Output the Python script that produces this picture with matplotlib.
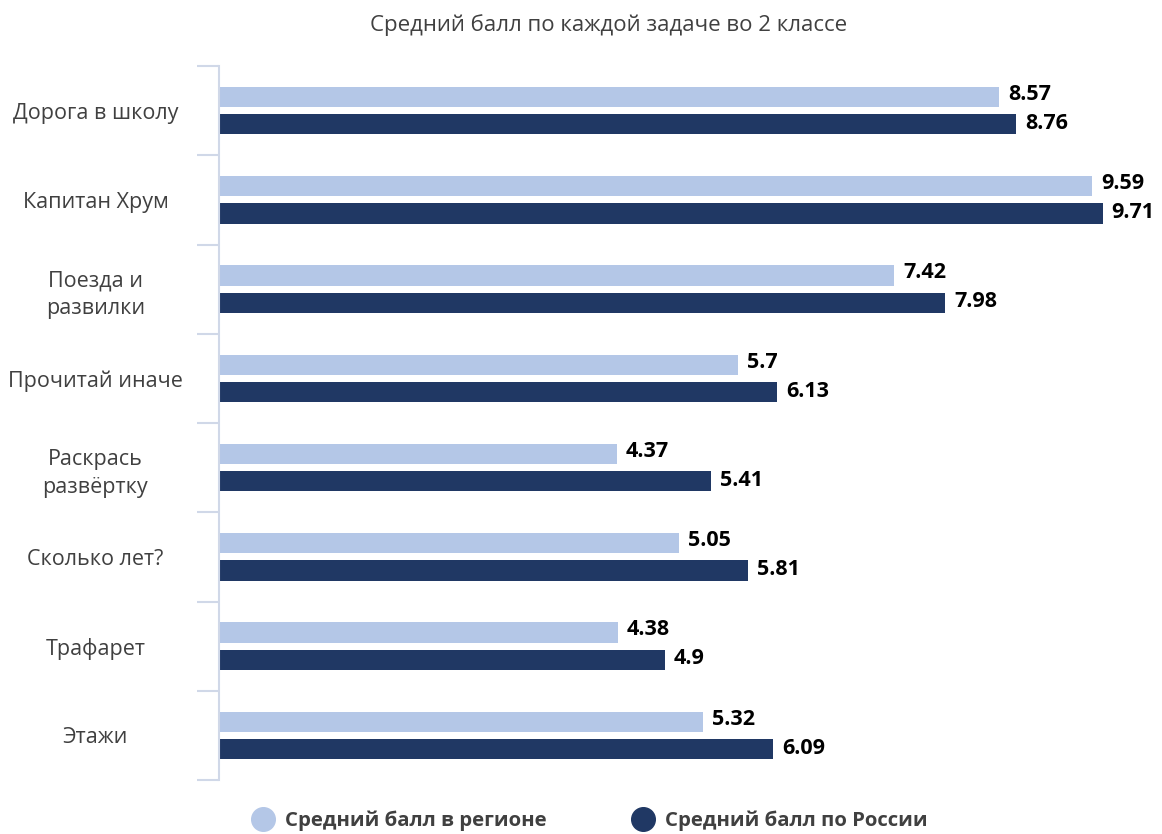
import matplotlib
matplotlib.use("Agg")
import matplotlib.pyplot as plt
import numpy as np
from matplotlib.lines import Line2D

categories = ["Дорога в школу", "Капитан Хрум", "Поезда и\nразвилки", "Прочитай иначе",
              "Раскрась\nразвёртку", "Сколько лет?", "Трафарет", "Этажи"]
region = [8.57, 9.59, 7.42, 5.7, 4.37, 5.05, 4.38, 5.32]
russia = [8.76, 9.71, 7.98, 6.13, 5.41, 5.81, 4.9, 6.09]
region_labels = ["8.57", "9.59", "7.42", "5.7", "4.37", "5.05", "4.38", "5.32"]
russia_labels = ["8.76", "9.71", "7.98", "6.13", "5.41", "5.81", "4.9", "6.09"]
series_names = ["Средний балл в регионе", "Средний балл по России"]
title = "Средний балл по каждой задаче во 2 классе"

c_light = "#B4C7E7"
c_dark = "#203864"
c_text = "#404040"
c_axis = "#D0D8E8"

plt.rcParams['font.family'] = ['Open Sans', 'DejaVu Sans']

fig = plt.figure(figsize=(11.62, 8.34), dpi=100)
ax = fig.add_axes([219/1162, 1-780/834, 910/1162, (780-66)/834])

n = len(categories)
y = np.arange(n)
off = 0.153
h = 0.225
ax.barh(y - off, region, height=h, color=c_light)
ax.barh(y + off, russia, height=h, color=c_dark)

for yi, v, t in zip(y, region, region_labels):
    ax.text(v + 0.1, yi - off - 0.03, t, va="center", ha="left", fontsize=15.5,
            fontweight="bold", color="black")
for yi, v, t in zip(y, russia, russia_labels):
    ax.text(v + 0.1, yi + off - 0.01, t, va="center", ha="left", fontsize=15.5,
            fontweight="bold", color="black")

ax.set_xlim(0, 10)
ax.set_ylim(n - 0.5, -0.5)
ax.set_xticks([])
ax.set_yticks(y)
ax.set_yticklabels(categories, fontsize=15.5, color=c_text, ha="center", linespacing=1.4)
ax.tick_params(axis="y", which="major", length=0, pad=89)
ax.set_yticks(np.arange(n + 1) - 0.5, minor=True)
ax.tick_params(axis="y", which="minor", length=16, color=c_axis, width=1.5)
for s in ["top", "right", "bottom"]:
    ax.spines[s].set_visible(False)
ax.spines["left"].set_color(c_axis)
ax.spines["left"].set_linewidth(1.5)

fig.text(609/1162, 1-25/834, title, ha="center", va="center", fontsize=16, color=c_text)

handles = [Line2D([], [], marker="o", linestyle="", markersize=17, color=c_light),
           Line2D([], [], marker="o", linestyle="", markersize=17, color=c_dark)]
leg = fig.legend(handles, series_names, loc="center", bbox_to_anchor=(590/1162, 1-821/834),
                 ncol=2, frameon=False, fontsize=14.7, columnspacing=4.2,
                 handlelength=1.0, handletextpad=0.6)
for t in leg.get_texts():
    t.set_fontweight("bold")
    t.set_color(c_text)

fig.savefig("out.png", dpi=100)
